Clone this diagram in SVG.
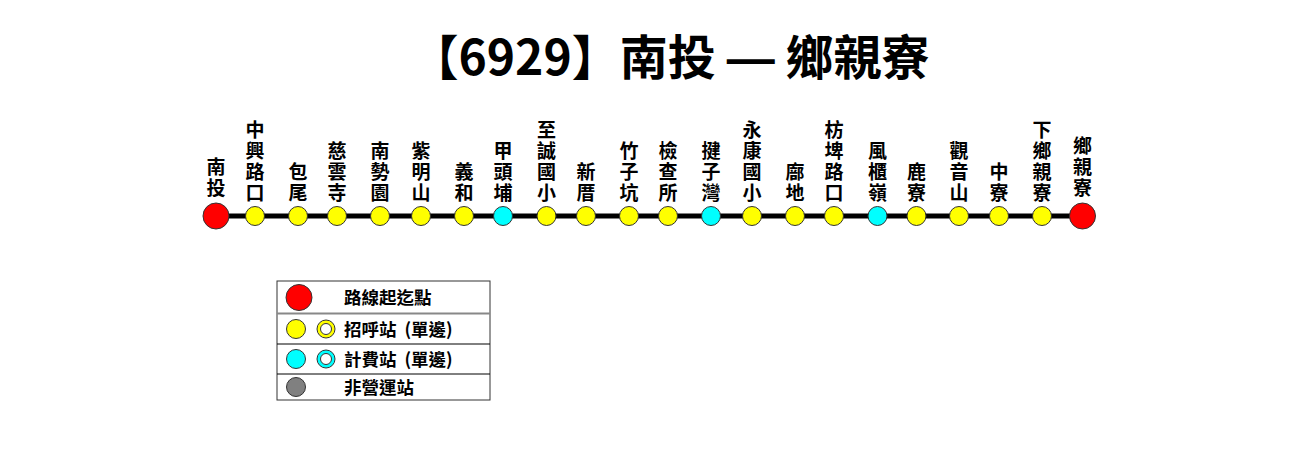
<svg xmlns="http://www.w3.org/2000/svg" width="1301" height="451" viewBox="0 0 1301 451">
<style>
.t{font-family:"Noto Sans CJK TC","Noto Sans",sans-serif;font-size:48px;font-weight:bold;fill:#000;text-anchor:middle}
.d{font-family:"Liberation Sans",sans-serif}
.s{font-family:"Noto Sans CJK TC","Noto Sans",sans-serif;font-size:19px;font-weight:bold;fill:#000;text-anchor:middle}
.l{font-family:"Noto Sans CJK TC","Noto Sans",sans-serif;font-size:17.5px;font-weight:bold;fill:#000}
.y{fill:#FFFF00;stroke:#333;stroke-width:1}
.c{fill:#00FFFF;stroke:#333;stroke-width:1}
.r{fill:#FF0000;stroke:#333;stroke-width:1}
.g{fill:#808080;stroke:#333;stroke-width:1}
.w{fill:#fff;stroke:#333;stroke-width:1}
</style>
<rect width="1301" height="451" fill="#fff"/>
<text class="t" x="670" y="75">【6929】南投 <tspan class="d">—</tspan> 鄉親寮</text>
<g id="connectors">
<line x1="216" y1="216" x2="1082" y2="216" stroke="#000" stroke-width="5"/>
</g>
<g id="n1"><circle class="r" cx="216" cy="216" r="13"/><text class="s"><tspan x="216" y="174">南</tspan><tspan x="216" y="195">投</tspan></text></g>
<g id="n2"><circle class="y" cx="255" cy="216" r="9.5"/><text class="s"><tspan x="255" y="137">中</tspan><tspan x="255" y="158">興</tspan><tspan x="255" y="179">路</tspan><tspan x="255" y="200">口</tspan></text></g>
<g id="n3"><circle class="y" cx="298" cy="216" r="9.5"/><text class="s"><tspan x="298" y="179">包</tspan><tspan x="298" y="200">尾</tspan></text></g>
<g id="n4"><circle class="y" cx="337" cy="216" r="9.5"/><text class="s"><tspan x="337" y="158">慈</tspan><tspan x="337" y="179">雲</tspan><tspan x="337" y="200">寺</tspan></text></g>
<g id="n5"><circle class="y" cx="380" cy="216" r="9.5"/><text class="s"><tspan x="380" y="158">南</tspan><tspan x="380" y="179">勢</tspan><tspan x="380" y="200">園</tspan></text></g>
<g id="n6"><circle class="y" cx="421" cy="216" r="9.5"/><text class="s"><tspan x="421" y="158">紫</tspan><tspan x="421" y="179">明</tspan><tspan x="421" y="200">山</tspan></text></g>
<g id="n7"><circle class="y" cx="464" cy="216" r="9.5"/><text class="s"><tspan x="464" y="179">義</tspan><tspan x="464" y="200">和</tspan></text></g>
<g id="n8"><circle class="c" cx="503" cy="216" r="9.5"/><text class="s"><tspan x="503" y="158">甲</tspan><tspan x="503" y="179">頭</tspan><tspan x="503" y="200">埔</tspan></text></g>
<g id="n9"><circle class="y" cx="546.5" cy="216" r="9.5"/><text class="s"><tspan x="546.5" y="137">至</tspan><tspan x="546.5" y="158">誠</tspan><tspan x="546.5" y="179">國</tspan><tspan x="546.5" y="200">小</tspan></text></g>
<g id="n10"><circle class="y" cx="586" cy="216" r="9.5"/><text class="s"><tspan x="586" y="179">新</tspan><tspan x="586" y="200">厝</tspan></text></g>
<g id="n11"><circle class="y" cx="629" cy="216" r="9.5"/><text class="s"><tspan x="629" y="158">竹</tspan><tspan x="629" y="179">子</tspan><tspan x="629" y="200">坑</tspan></text></g>
<g id="n12"><circle class="y" cx="668" cy="216" r="9.5"/><text class="s"><tspan x="668" y="158">檢</tspan><tspan x="668" y="179">查</tspan><tspan x="668" y="200">所</tspan></text></g>
<g id="n13"><circle class="c" cx="711" cy="216" r="9.5"/><text class="s"><tspan x="711" y="158">揵</tspan><tspan x="711" y="179">子</tspan><tspan x="711" y="200">灣</tspan></text></g>
<g id="n14"><circle class="y" cx="752" cy="216" r="9.5"/><text class="s"><tspan x="752" y="137">永</tspan><tspan x="752" y="158">康</tspan><tspan x="752" y="179">國</tspan><tspan x="752" y="200">小</tspan></text></g>
<g id="n15"><circle class="y" cx="795" cy="216" r="9.5"/><text class="s"><tspan x="795" y="179">廍</tspan><tspan x="795" y="200">地</tspan></text></g>
<g id="n16"><circle class="y" cx="834" cy="216" r="9.5"/><text class="s"><tspan x="834" y="137">枋</tspan><tspan x="834" y="158">埤</tspan><tspan x="834" y="179">路</tspan><tspan x="834" y="200">口</tspan></text></g>
<g id="n17"><circle class="c" cx="877.5" cy="216" r="9.5"/><text class="s"><tspan x="877.5" y="158">風</tspan><tspan x="877.5" y="179">櫃</tspan><tspan x="877.5" y="200">嶺</tspan></text></g>
<g id="n18"><circle class="y" cx="916.5" cy="216" r="9.5"/><text class="s"><tspan x="916.5" y="179">鹿</tspan><tspan x="916.5" y="200">寮</tspan></text></g>
<g id="n19"><circle class="y" cx="959" cy="216" r="9.5"/><text class="s"><tspan x="959" y="158">觀</tspan><tspan x="959" y="179">音</tspan><tspan x="959" y="200">山</tspan></text></g>
<g id="n20"><circle class="y" cx="999" cy="216" r="9.5"/><text class="s"><tspan x="999" y="179">中</tspan><tspan x="999" y="200">寮</tspan></text></g>
<g id="n21"><circle class="y" cx="1042" cy="216" r="9.5"/><text class="s"><tspan x="1042" y="137">下</tspan><tspan x="1042" y="158">鄉</tspan><tspan x="1042" y="179">親</tspan><tspan x="1042" y="200">寮</tspan></text></g>
<g id="n22"><circle class="r" cx="1082.5" cy="216" r="13"/><text class="s"><tspan x="1082.5" y="153">鄉</tspan><tspan x="1082.5" y="174">親</tspan><tspan x="1082.5" y="195">寮</tspan></text></g>
<g id="legend">
<rect x="277" y="281" width="213" height="119" fill="#fff" stroke="#333" stroke-width="1"/>
<line x1="277" y1="313.5" x2="490" y2="313.5" stroke="#888" stroke-width="2"/>
<line x1="277" y1="344" x2="490" y2="344" stroke="#000" stroke-width="1"/>
<line x1="277" y1="374" x2="490" y2="374" stroke="#000" stroke-width="1"/>
<circle class="r" cx="299" cy="297.5" r="13"/>
<text class="l" x="344" y="303.5">路線起迄點</text>
<circle class="y" cx="296" cy="329" r="9.5"/>
<circle class="y" cx="326" cy="329" r="9"/><circle class="w" cx="326" cy="329" r="5.5"/>
<text class="l" x="344" y="335.5">招呼站 <tspan dx="4">(單邊)</tspan></text>
<circle class="c" cx="296" cy="359" r="9.5"/>
<circle class="c" cx="326" cy="359" r="9"/><circle class="w" cx="326" cy="359" r="5.5"/>
<text class="l" x="344" y="365.5">計費站 <tspan dx="4">(單邊)</tspan></text>
<circle class="g" cx="296" cy="387" r="9.5"/>
<text class="l" x="344" y="393.5">非營運站</text>
</g>
</svg>
